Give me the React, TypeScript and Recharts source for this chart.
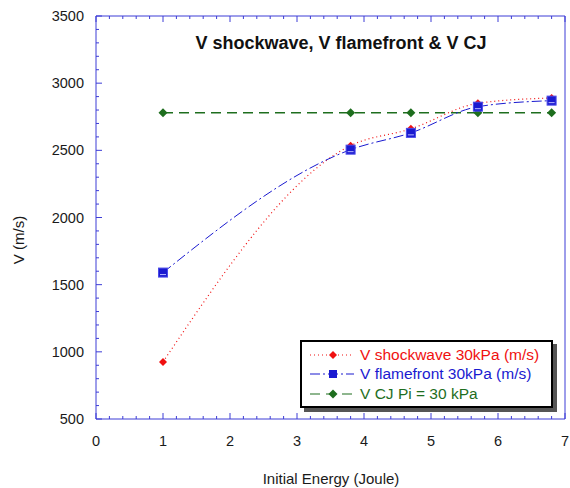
import { LineChart, Line, XAxis, YAxis } from 'recharts'

const energy = [1, 3.8, 4.7, 5.7, 6.8]
const shockwave = [925, 2535, 2660, 2850, 2890]
const flamefront = [1590, 2505, 2630, 2825, 2870]
const cjVelocity = [2780, 2780, 2780, 2780, 2780]

const xMajor = [0, 1, 2, 3, 4, 5, 6, 7]
const yMajor = [500, 1000, 1500, 2000, 2500, 3000, 3500]
const xTicks = Array.from({ length: 36 }, (_, i) => Math.round(i * 2) / 10)
const yTicks = Array.from({ length: 31 }, (_, i) => 500 + i * 100)

const data = energy.map((e, i) => ({
  e,
  shock: shockwave[i],
  flame: flamefront[i],
  cj: cjVelocity[i],
}))

const AXIS = '#3c3cd6'
const FONT = '"Liberation Sans", Arial, sans-serif'
const RED = '#f01010'
const BLUE = '#1a1ad0'
const GREEN = '#1e6e1e'
const TXT = '#1a1a1a'

const isMajor = (v: number, list: number[]) => list.some((m) => Math.abs(m - v) < 1e-6)

function LeftTick({ x, y, payload }: any) {
  const major = isMajor(payload.value, yMajor)
  return (
    <g>
      <line x1={x} x2={x + (major ? 6 : 3)} y1={y} y2={y} stroke={AXIS} />
      {major && (
        <text x={x - 12} y={y + 5} textAnchor="end" fontSize={14.5} fill={TXT} fontFamily={FONT}>
          {payload.value}
        </text>
      )}
    </g>
  )
}

function RightTick({ x, y, payload }: any) {
  const major = isMajor(payload.value, yMajor)
  return <line x1={x} x2={x - (major ? 6 : 3)} y1={y} y2={y} stroke={AXIS} />
}

function BottomTick({ x, y, payload }: any) {
  const major = isMajor(payload.value, xMajor)
  return (
    <g>
      <line x1={x} x2={x} y1={y} y2={y - (major ? 6 : 3)} stroke={AXIS} />
      {major && (
        <text x={x} y={y + 27} textAnchor="middle" fontSize={14.5} fill={TXT} fontFamily={FONT}>
          {payload.value}
        </text>
      )}
    </g>
  )
}

function TopTick({ x, y, payload }: any) {
  const major = isMajor(payload.value, xMajor)
  return <line x1={x} x2={x} y1={y} y2={y + (major ? 6 : 3)} stroke={AXIS} />
}

function Diamond({ cx, cy, fill, r }: any) {
  if (cx == null || cy == null) return null
  return <path d={`M${cx},${cy - r}L${cx + r},${cy}L${cx},${cy + r}L${cx - r},${cy}Z`} fill={fill} />
}

function Square({ cx, cy }: any) {
  if (cx == null || cy == null) return null
  return (
    <g>
      <rect x={cx - 4.5} y={cy - 4.5} width={9} height={9} fill={BLUE} stroke="#4a4ae8" />
      <line x1={cx - 3} x2={cx + 3} y1={cy + 2} y2={cy + 2} stroke="#b8b8ff" />
    </g>
  )
}

const legendItems = [
  { label: 'V shockwave 30kPa (m/s)', color: RED, dash: '1 3', kind: 'diamond', size: 4 },
  { label: 'V flamefront 30kPa (m/s)', color: BLUE, dash: '10 3 2 3', kind: 'square', size: 4 },
  { label: 'V CJ Pi = 30 kPa', color: GREEN, dash: '10 6', kind: 'diamond', size: 4.5 },
]

export default function App() {
  return (
    <div style={{ position: 'absolute', left: 0, top: 0, width: 570, height: 488, background: '#fff', fontFamily: FONT }}>
      <LineChart width={570} height={488} data={data} margin={{ top: 15, right: 4, bottom: 39, left: 0 }}>
        <XAxis
          xAxisId="b"
          dataKey="e"
          type="number"
          domain={[0, 7]}
          ticks={xTicks}
          interval={0}
          height={30}
          tickSize={0}
          tickMargin={0}
          tickLine={false}
          tick={<BottomTick />}
          stroke={AXIS}
        />
        <XAxis
          xAxisId="t"
          orientation="top"
          type="number"
          dataKey="e"
          domain={[0, 7]}
          ticks={xTicks}
          interval={0}
          height={1}
          tickSize={0}
          tickMargin={0}
          tickLine={false}
          tick={<TopTick />}
          stroke={AXIS}
        />
        <YAxis
          yAxisId="l"
          type="number"
          domain={[500, 3500]}
          ticks={yTicks}
          interval={0}
          width={96}
          tickSize={0}
          tickMargin={0}
          tickLine={false}
          tick={<LeftTick />}
          stroke={AXIS}
        />
        <YAxis
          yAxisId="r"
          orientation="right"
          type="number"
          domain={[500, 3500]}
          ticks={yTicks}
          interval={0}
          width={1}
          tickSize={0}
          tickMargin={0}
          tickLine={false}
          tick={<RightTick />}
          stroke={AXIS}
        />
        <Line
          xAxisId="b"
          yAxisId="l"
          dataKey="cj"
          type="linear"
          stroke={GREEN}
          strokeWidth={1.5}
          strokeDasharray="10 6"
          dot={<Diamond fill={GREEN} r={4.5} />}
          isAnimationActive={false}
        />
        <Line
          xAxisId="b"
          yAxisId="l"
          dataKey="shock"
          type="monotone"
          stroke={RED}
          strokeWidth={1.2}
          strokeDasharray="1 3"
          dot={<Diamond fill={RED} r={4} />}
          isAnimationActive={false}
        />
        <Line
          xAxisId="b"
          yAxisId="l"
          dataKey="flame"
          type="monotone"
          stroke={BLUE}
          strokeWidth={1}
          strokeDasharray="10 3 2 3"
          dot={<Square />}
          isAnimationActive={false}
        />
      </LineChart>

      <div style={{ position: 'absolute', left: 0, width: 682, top: 33, textAlign: 'center', fontWeight: 'bold', fontSize: 18, color: '#111' }}>
        V shockwave, V flamefront &amp; V CJ
      </div>
      <div style={{ position: 'absolute', left: 96, width: 470, top: 470, textAlign: 'center', fontSize: 15, color: TXT }}>
        Initial Energy (Joule)
      </div>
      <div
        style={{
          position: 'absolute',
          left: 18,
          top: 240,
          transform: 'translate(-50%, -50%) rotate(-90deg)',
          fontSize: 15,
          color: TXT,
          whiteSpace: 'nowrap',
        }}
      >
        V (m/s)
      </div>

      <div
        style={{
          position: 'absolute',
          left: 300,
          top: 340,
          width: 253,
          height: 68,
          border: '2px solid #000',
          background: '#fff',
          boxShadow: '4px 4px 0 #555',
          padding: '3px 0 0 6px',
          boxSizing: 'border-box',
        }}
      >
        {legendItems.map((it) => (
          <div key={it.label} style={{ display: 'flex', alignItems: 'center', height: 19.5, fontSize: 15.5, color: it.color, whiteSpace: 'nowrap' }}>
            <svg width={48} height={12} style={{ marginRight: 4, flexShrink: 0 }}>
              <line x1={2} x2={46} y1={6} y2={6} stroke={it.color} strokeDasharray={it.dash} strokeWidth={1.2} />
              {it.kind === 'square' ? (
                <rect x={21} y={2} width={8} height={8} fill={BLUE} />
              ) : (
                <path d={`M25,${6 - it.size}L${25 + it.size},6L25,${6 + it.size}L${25 - it.size},6Z`} fill={it.color} />
              )}
            </svg>
            {it.label}
          </div>
        ))}
      </div>
    </div>
  )
}
